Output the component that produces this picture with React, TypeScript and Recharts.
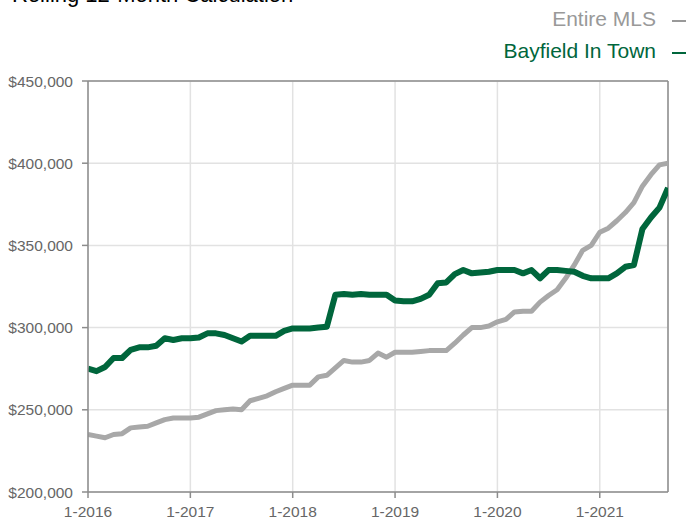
import React from "react";
import {
  LineChart,
  Line,
  XAxis,
  YAxis,
  CartesianGrid,
  Legend,
  ReferenceLine,
} from "recharts";

// Month categories: 1-2016 .. 9-2021
const startYear = 2016;
const monthCount = 69;
const months: string[] = [];
for (let k = 0; k < monthCount; k++) {
  months.push(`${(k % 12) + 1}-${startYear + Math.floor(k / 12)}`);
}

const xTickLabels = ["1-2016", "1-2017", "1-2018", "1-2019", "1-2020", "1-2021"];
const yTicks = [200000, 250000, 300000, 350000, 400000, 450000];

const entireMLS = [
  235000, 234000, 233000, 235000, 235500, 239000, 239500, 240000, 242000, 244000,
  245000, 245000, 245000, 245500, 247500, 249500, 250000, 250500, 250000, 255500,
  257000, 258500, 261000, 263000, 265000, 265000, 265000, 270000, 271000, 275500,
  280000, 279000, 279000, 280000, 284500, 282000, 285000, 285000, 285000, 285500,
  286000, 286000, 286000, 290500, 295500, 300000, 300000, 301000, 303500, 305000,
  309500, 310000, 310000, 315500, 319500, 323000, 330000, 338000, 347000, 350000,
  358000, 360500, 365000, 370000, 376000, 386000, 393000, 399000, 400000,
];

const bayfieldInTown = [
  275000, 273500, 276000, 281500, 281500, 286500, 288000, 288000, 289000, 293500,
  292500, 293500, 293500, 294000, 296500, 296500, 295500, 293500, 291500, 295000,
  295000, 295000, 295000, 298000, 299500, 299500, 299500, 300000, 300500, 320000,
  320500, 320000, 320500, 320000, 320000, 320000, 316500, 316000, 316000, 317500,
  320000, 327000, 327500, 332500, 335000, 333000, 333500, 334000, 335000, 335000,
  335000, 333000, 335000, 330000, 335000, 335000, 334500, 334000, 331500, 330000,
  330000, 330000, 333000, 337000, 338000, 360000, 367000, 373000, 385000,
];

const seriesNames = ["Entire MLS", "Bayfield In Town"];
const GREEN = "#00663c";
const GRAY = "#a8a8a8";
const LEGEND_GRAY = "#999999";
const FONT = '"Liberation Sans", Arial, Helvetica, sans-serif';

const data = months.map((m, k) => ({
  idx: k,
  month: m,
  mls: entireMLS[k],
  bayfield: bayfieldInTown[k],
}));

const fmtMoney = (v: number) => "$" + v.toLocaleString("en-US");
const fmtX = (v: number) => xTickLabels[Math.round(v / 12)] ?? months[v];

const LegendContent = (props: any) => {
  const items = [...(props.payload || [])].sort(
    (a: any, b: any) => seriesNames.indexOf(a.value) - seriesNames.indexOf(b.value)
  );
  return (
    <div
      style={{
        fontFamily: FONT,
        fontSize: 21,
        lineHeight: "32px",
        textAlign: "right",
      }}
    >
      {items.map((it: any) => {
        const c = it.value === seriesNames[1] ? GREEN : LEGEND_GRAY;
        return (
          <div key={it.value} style={{ color: c, whiteSpace: "nowrap" }}>
            <span>{it.value}</span>
            <span
              style={{
                display: "inline-block",
                width: 14,
                height: 2,
                marginLeft: 16,
                background: c,
                verticalAlign: "middle",
              }}
            />
          </div>
        );
      })}
    </div>
  );
};

export default function App() {
  return (
    <div
      style={{
        position: "absolute",
        left: 0,
        top: 0,
        width: 688,
        height: 520,
        overflow: "hidden",
        background: "#ffffff",
      }}
    >
      <div
        style={{
          position: "absolute",
          left: 12,
          top: -15.6,
          fontFamily: FONT,
          fontSize: 22,
          lineHeight: "22px",
          color: "#000",
          whiteSpace: "nowrap",
        }}
      >
        Rolling 12-Month Calculation
      </div>
      <LineChart
        width={688}
        height={520}
        data={data}
        margin={{ top: 81, right: 20, bottom: 0, left: 0 }}
      >
        <CartesianGrid stroke="#e2e2e2" strokeWidth={1.5} />
        <XAxis
          dataKey="idx"
          type="number"
          domain={[0, 68]}
          ticks={[0, 12, 24, 36, 48, 60]}
          tickFormatter={fmtX}
          height={28}
          tickSize={6}
          tickMargin={8}
          stroke="#8c8c8c"
          strokeWidth={1.5}
          tick={{ fill: "#666666", fontSize: 15.5, fontFamily: FONT }}
          allowDataOverflow
        />
        <YAxis
          type="number"
          domain={[200000, 450000]}
          ticks={yTicks}
          tickFormatter={fmtMoney}
          width={88}
          tickSize={6}
          tickMargin={9}
          stroke="#8c8c8c"
          strokeWidth={1.5}
          tick={{ fill: "#666666", fontSize: 15.5, fontFamily: FONT }}
          allowDataOverflow
        />
        <ReferenceLine y={450000} stroke="#8c8c8c" strokeWidth={1.5} />
        <ReferenceLine x={68} stroke="#8c8c8c" strokeWidth={1.5} />
        <Legend
          layout="horizontal"
          verticalAlign="middle"
          align="center"
          wrapperStyle={{ position: "absolute", top: 3.4, right: 2, left: "auto", bottom: "auto", width: "auto" }}
          content={LegendContent}
        />
        <Line
          type="linear"
          dataKey="mls"
          name={seriesNames[0]}
          stroke={GRAY}
          strokeWidth={5}
          dot={false}
          activeDot={false}
          strokeLinejoin="round"
          isAnimationActive={false}
        />
        <Line
          type="linear"
          dataKey="bayfield"
          name={seriesNames[1]}
          stroke={GREEN}
          strokeWidth={6}
          dot={false}
          activeDot={false}
          strokeLinejoin="round"
          isAnimationActive={false}
        />
      </LineChart>
    </div>
  );
}
